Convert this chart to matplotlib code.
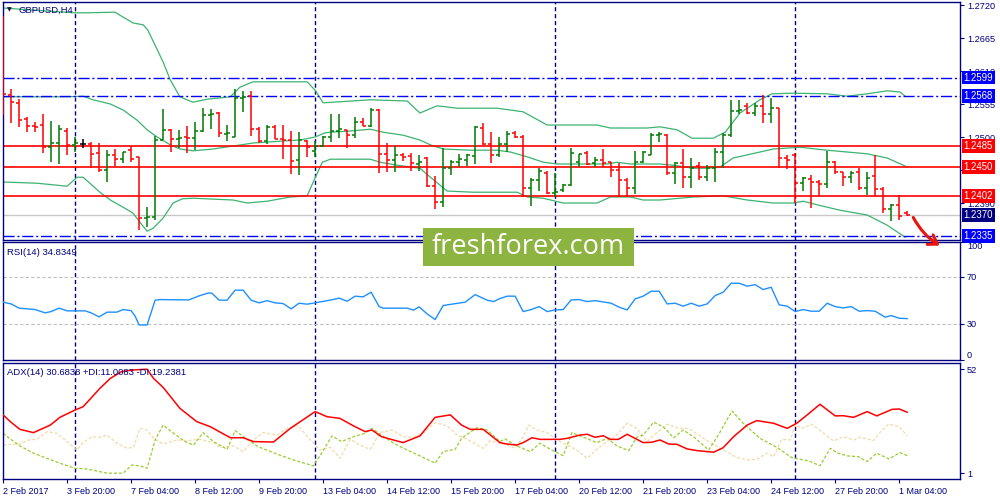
import matplotlib
matplotlib.use('Agg')
import matplotlib.pyplot as plt
from matplotlib.collections import LineCollection
from matplotlib.patches import Rectangle, FancyArrowPatch
from matplotlib.transforms import blended_transform_factory

plt.rcParams['font.family'] = ['Liberation Sans', 'DejaVu Sans']

# ---------------- data ----------------
symbol = 'GBPUSD,H4'

# H4 bars, index 0 = 2 Feb 2017 12:00 ... 113 = 1 Mar 2017 08:00
opens = [1.2695, 1.2570, 1.2557, 1.2530, 1.2518, 1.2520, 1.2483, 1.2490, 1.2510, 1.2487,
         1.2488, 1.2488, 1.2473, 1.2445, 1.2470, 1.2463, 1.2478, 1.2467, 1.2365, 1.2367,
         1.2495, 1.2512, 1.2497, 1.2500, 1.2498, 1.2510, 1.2537, 1.2540, 1.2505, 1.2500,
         1.2565, 1.2568, 1.2513, 1.2493, 1.2517, 1.2497, 1.2495, 1.2462, 1.2493, 1.2477,
         1.2485, 1.2500, 1.2510, 1.2512, 1.2503, 1.2525, 1.2518, 1.2545, 1.2472, 1.2462,
         1.2470, 1.2468, 1.2455, 1.2465, 1.2418, 1.2392, 1.2448, 1.2458, 1.2462, 1.2468,
         1.2515, 1.2488, 1.2470, 1.2488, 1.2507, 1.2500, 1.2415, 1.2428, 1.2440, 1.2407,
         1.2412, 1.2420, 1.2458, 1.2473, 1.2457, 1.2462, 1.2458, 1.2445, 1.2428, 1.2415,
         1.2458, 1.2470, 1.2503, 1.2503, 1.2440, 1.2457, 1.2433, 1.2452, 1.2433, 1.2448,
         1.2475, 1.2503, 1.2543, 1.2552, 1.2540, 1.2552, 1.2538, 1.2548, 1.2465, 1.2470,
         1.2423, 1.2430, 1.2425, 1.2422, 1.2458, 1.2442, 1.2433, 1.2442, 1.2415, 1.2435,
         1.2413, 1.2380, 1.2387, 1.2373]
highs = [1.2702, 1.2580, 1.2563, 1.2533, 1.2525, 1.2538, 1.2527, 1.2520, 1.2515, 1.2500,
         1.2497, 1.2492, 1.2490, 1.2478, 1.2480, 1.2475, 1.2485, 1.2467, 1.2383, 1.2502,
         1.2547, 1.2513, 1.2512, 1.2518, 1.2525, 1.2548, 1.2547, 1.2542, 1.2520, 1.2580,
         1.2577, 1.2577, 1.2517, 1.2520, 1.2520, 1.2520, 1.2510, 1.2508, 1.2495, 1.2493,
         1.2502, 1.2538, 1.2538, 1.2512, 1.2533, 1.2532, 1.2548, 1.2547, 1.2490, 1.2485,
         1.2473, 1.2473, 1.2470, 1.2467, 1.2435, 1.2482, 1.2462, 1.2472, 1.2472, 1.2518,
         1.2523, 1.2508, 1.2500, 1.2510, 1.2510, 1.2503, 1.2432, 1.2448, 1.2443, 1.2440,
         1.2422, 1.2482, 1.2472, 1.2477, 1.2467, 1.2480, 1.2458, 1.2457, 1.2432, 1.2477,
         1.2477, 1.2507, 1.2508, 1.2505, 1.2458, 1.2480, 1.2465, 1.2458, 1.2453, 1.2482,
         1.2507, 1.2562, 1.2562, 1.2557, 1.2557, 1.2570, 1.2565, 1.2548, 1.2470, 1.2473,
         1.2433, 1.2437, 1.2428, 1.2477, 1.2460, 1.2442, 1.2443, 1.2448, 1.2442, 1.2470,
         1.2417, 1.2388, 1.2403, 1.2377]
lows = [1.2537, 1.2523, 1.2517, 1.2508, 1.2508, 1.2473, 1.2458, 1.2455, 1.2470, 1.2475,
        1.2482, 1.2448, 1.2442, 1.2425, 1.2452, 1.2457, 1.2458, 1.2345, 1.2350, 1.2362,
        1.2495, 1.2475, 1.2482, 1.2473, 1.2478, 1.2508, 1.2513, 1.2500, 1.2493, 1.2500,
        1.2542, 1.2502, 1.2490, 1.2488, 1.2497, 1.2463, 1.2438, 1.2437, 1.2467, 1.2467,
        1.2483, 1.2492, 1.2498, 1.2482, 1.2498, 1.2518, 1.2517, 1.2440, 1.2442, 1.2442,
        1.2460, 1.2443, 1.2443, 1.2417, 1.2380, 1.2383, 1.2437, 1.2450, 1.2452, 1.2455,
        1.2487, 1.2457, 1.2467, 1.2475, 1.2498, 1.2400, 1.2385, 1.2410, 1.2405, 1.2400,
        1.2408, 1.2418, 1.2450, 1.2453, 1.2450, 1.2450, 1.2433, 1.2400, 1.2400, 1.2405,
        1.2457, 1.2470, 1.2492, 1.2437, 1.2422, 1.2415, 1.2415, 1.2428, 1.2427, 1.2425,
        1.2448, 1.2500, 1.2538, 1.2538, 1.2535, 1.2523, 1.2523, 1.2448, 1.2447, 1.2390,
        1.2410, 1.2382, 1.2402, 1.2415, 1.2438, 1.2418, 1.2423, 1.2412, 1.2403, 1.2402,
        1.2373, 1.2360, 1.2362, 1.2368]
closes = [1.2572, 1.2558, 1.2528, 1.2518, 1.2517, 1.2483, 1.2490, 1.2513, 1.2487, 1.2490,
          1.2488, 1.2472, 1.2445, 1.2470, 1.2463, 1.2475, 1.2463, 1.2365, 1.2367, 1.2495,
          1.2512, 1.2497, 1.2498, 1.2498, 1.2510, 1.2537, 1.2538, 1.2507, 1.2507, 1.2565,
          1.2567, 1.2513, 1.2493, 1.2517, 1.2497, 1.2495, 1.2460, 1.2495, 1.2483, 1.2485,
          1.2500, 1.2510, 1.2513, 1.2503, 1.2525, 1.2518, 1.2545, 1.2472, 1.2462, 1.2470,
          1.2467, 1.2457, 1.2458, 1.2418, 1.2392, 1.2448, 1.2458, 1.2463, 1.2470, 1.2517,
          1.2488, 1.2470, 1.2488, 1.2505, 1.2500, 1.2415, 1.2428, 1.2443, 1.2407, 1.2408,
          1.2420, 1.2473, 1.2472, 1.2455, 1.2462, 1.2457, 1.2445, 1.2428, 1.2415, 1.2458,
          1.2475, 1.2503, 1.2505, 1.2440, 1.2457, 1.2433, 1.2448, 1.2433, 1.2448, 1.2475,
          1.2503, 1.2543, 1.2545, 1.2540, 1.2552, 1.2538, 1.2548, 1.2465, 1.2462, 1.2423,
          1.2432, 1.2425, 1.2422, 1.2458, 1.2442, 1.2433, 1.2440, 1.2415, 1.2432, 1.2413,
          1.2380, 1.2387, 1.2368, 1.2370]

# Bollinger bands (bar index, price)
bb_up_x = [0, 8.75, 10.5, 14, 14.6, 16.25, 17.5, 18.1, 20, 20.9,
           22.1, 23, 23.75, 25.5, 28.4, 29.6, 30.5, 31.25, 38, 39,
           40, 45.9, 50.5, 52.1, 54.25, 56.75, 61.75, 65, 68, 74.25,
           75.9, 80.5, 82.1, 84.25, 86.1, 88.75, 90.25, 92.1, 94.6, 96.1,
           98.75, 103, 105.5, 108, 110.5, 112.1, 112.75]
bb_up = [1.2715, 1.2707, 1.2707, 1.2708, 1.2703, 1.2690, 1.2687, 1.2678, 1.2625, 1.2595,
         1.2567, 1.2562, 1.2558, 1.2563, 1.2567, 1.2583, 1.2588, 1.2592, 1.2592, 1.2578,
         1.2557, 1.2562, 1.2560, 1.2540, 1.2552, 1.2548, 1.2548, 1.2542, 1.2520, 1.2520,
         1.2515, 1.2515, 1.2517, 1.2512, 1.2498, 1.2498, 1.2508, 1.2540, 1.2562, 1.2572,
         1.2573, 1.2572, 1.2568, 1.2572, 1.2577, 1.2575, 1.2568]
bb_mid_x = [0, 8, 10, 11.25, 13.4, 15, 16.75, 18, 19.25, 20.9,
            22.1, 23.75, 26.25, 28.75, 31.25, 34.6, 37.1, 39, 40.25, 40.9,
            43.4, 45.9, 47.5, 50, 52.1, 53.4, 55, 58.4, 61.75, 63.4,
            65.5, 67.5, 69.25, 75.5, 76.75, 78.4, 82.1, 83.75, 86.25, 88,
            89.6, 91.25, 94.6, 96.25, 99.6, 103, 108, 110.5, 113]
bb_mid = [1.2567, 1.2567, 1.2568, 1.2562, 1.2555, 1.2545, 1.2528, 1.2512, 1.2500, 1.2487,
          1.2480, 1.2477, 1.2480, 1.2485, 1.2490, 1.2493, 1.2495, 1.2500, 1.2507, 1.2508,
          1.2510, 1.2513, 1.2508, 1.2503, 1.2495, 1.2487, 1.2480, 1.2478, 1.2478, 1.2475,
          1.2467, 1.2458, 1.2455, 1.2455, 1.2458, 1.2455, 1.2455, 1.2453, 1.2448, 1.2448,
          1.2450, 1.2465, 1.2475, 1.2480, 1.2483, 1.2478, 1.2472, 1.2465, 1.2450]
bb_low_x = [0, 4.25, 8, 9.25, 10, 12.1, 13.4, 15, 16.25, 17.1,
            18, 18.75, 20, 21.25, 22.4, 23.75, 28.75, 30.5, 33, 35.9,
            38, 39, 39.9, 40.9, 45.9, 47.1, 49.25, 52.1, 53.4, 55.5,
            58.75, 64.25, 65.5, 67.5, 70, 74.25, 75.9, 78.4, 80, 82.1,
            86.25, 90, 93, 96.25, 98.75, 100, 101.75, 104.6, 108, 110.5,
            112.75]
bb_low = [1.2425, 1.2423, 1.2418, 1.2433, 1.2433, 1.2408, 1.2395, 1.2383, 1.2373, 1.2358,
          1.2343, 1.2348, 1.2365, 1.2390, 1.2397, 1.2398, 1.2395, 1.2390, 1.2393, 1.2400,
          1.2402, 1.2432, 1.2458, 1.2463, 1.2463, 1.2458, 1.2453, 1.2448, 1.2433, 1.2410,
          1.2408, 1.2408, 1.2400, 1.2398, 1.2390, 1.2390, 1.2400, 1.2400, 1.2395, 1.2395,
          1.2400, 1.2402, 1.2395, 1.2390, 1.2390, 1.2393, 1.2387, 1.2378, 1.2370, 1.2353,
          1.2333]

# RSI(14)
rsi_x = [0, 1, 2, 4, 5.25, 6, 7, 8, 10.25, 11,
         12, 13, 14.2, 15, 16, 16.5, 17, 18, 19, 19.6,
         23.2, 24.6, 25.7, 26.1, 27, 28, 29, 30, 31, 32,
         33, 34, 35, 36, 37, 38, 39, 41, 42, 43,
         44, 45, 46, 47, 47.5, 50.5, 51.3, 52, 53, 54,
         55, 55.7, 57.75, 59, 60.5, 61.3, 62, 63, 64, 65,
         66, 67, 68, 69, 70, 71, 72, 73, 74, 76,
         77, 78, 79, 80, 81, 82, 83, 84, 85, 86,
         87, 88, 89, 90, 91, 92, 93, 94, 95, 96,
         97, 98, 99, 100, 101, 102, 103, 104, 105, 106,
         107, 108, 109, 110.25, 111, 112, 113]
rsi = [48.8, 47.3, 43.7, 42.5, 39.7, 40.8, 43.7, 41.4, 41.4, 39.7,
       36.3, 40.3, 40.3, 42.5, 41.6, 36.9, 29.4, 29.4, 50.5, 51.0,
       50.7, 54.4, 56.7, 56.4, 50.5, 50.5, 59.0, 59.0, 50.5, 48.2,
       50.1, 48.2, 47.6, 43.1, 47.9, 47.1, 48.2, 50.7, 52.2, 49.6,
       53.9, 53.3, 57.3, 45.0, 43.7, 43.7, 42.0, 44.8, 38.8, 34.0,
       45.9, 46.7, 48.8, 55.2, 50.5, 49.3, 51.6, 53.9, 53.9, 40.8,
       42.5, 45.0, 40.8, 42.2, 42.5, 50.7, 51.0, 49.3, 50.1, 47.9,
       44.5, 42.2, 51.6, 53.9, 58.1, 58.1, 47.3, 47.9, 45.4, 47.9,
       45.4, 47.3, 54.4, 57.3, 64.9, 64.9, 62.4, 63.7, 59.5, 61.5,
       46.5, 45.4, 40.8, 42.5, 41.1, 41.1, 47.9, 45.0, 43.9, 45.0,
       41.1, 41.6, 41.1, 36.0, 37.4, 35.1, 34.8]
rsi_levels = [70, 30]
rsi_title = 'RSI(14) 34.8349'

# ADX(14), +DI, -DI
adx_x = [0, 0.9, 2.1, 3.8, 5.9, 7.1, 9, 10, 12.1, 13.4,
         14.8, 16.1, 18, 18.8, 20, 22.1, 24.2, 25.9, 28.4, 30,
         31.3, 33.8, 35.9, 39, 40.5, 42.1, 43.8, 45.25, 46.1, 47.3,
         50, 52.1, 54, 55.9, 57.3, 58.4, 60, 62.1, 63, 64.2,
         65, 66.1, 67.1, 69.6, 70.5, 72.1, 73, 74, 75, 75.9,
         76.9, 78, 80, 81.1, 82.1, 83.2, 84.2, 85.5, 86.7, 88.8,
         90, 91.3, 93, 94.2, 96.3, 98, 99.2, 100.5, 102.1, 104,
         105, 106.3, 108, 109.2, 111.1, 112, 113]
adx = [29.5, 26.2, 22.4, 20.8, 24.5, 28.3, 31.9, 33.5, 42.5, 47.4,
       50.7, 51.5, 51.9, 47.4, 43.0, 32.7, 26.2, 23.7, 18.3, 18.3,
       16.4, 16.2, 22.9, 31.1, 28.6, 27.8, 24.1, 21.3, 22.1, 18.8,
       15.9, 19.2, 28.3, 29.5, 24.5, 22.4, 22.4, 15.9, 15.2, 14.7,
       15.9, 18.3, 17.5, 17.5, 18.0, 19.6, 20.0, 18.5, 19.3, 17.5,
       17.5, 20.0, 15.9, 16.1, 17.2, 15.2, 15.1, 12.8, 12.0, 11.2,
       13.4, 18.8, 24.5, 26.7, 25.4, 22.9, 25.4, 29.5, 34.7, 29.0,
       29.1, 28.3, 31.1, 29.0, 32.2, 32.4, 30.8]
pdi_x = [0, 0.7, 2.1, 3.8, 5.5, 7.1, 9, 10.5, 13, 15,
         16.1, 17.1, 18, 19, 20, 21.3, 22.75, 23.8, 25, 26.3,
         28, 29, 30.5, 31.9, 34.2, 36.3, 38.8, 39.8, 41.1, 42.3,
         43.8, 45.25, 46.1, 47.3, 48.8, 50.5, 52.1, 54, 55, 56.5,
         57.3, 59.2, 60.5, 62.1, 62.75, 63.6, 64.6, 65.9, 67.1, 68.4,
         70, 71.1, 72.1, 73.4, 74.2, 75.5, 76.7, 78.2, 79.2, 80,
         81.3, 82.5, 83.8, 85, 86.3, 88.2, 89.6, 91.1, 92.5, 94.6,
         96.7, 98.6, 100.7, 102.1, 103.4, 104.2, 105.5, 106.9, 108, 109.2,
         110.7, 112.1, 113]
pdi = [20.5, 18.3, 14.3, 10.7, 8.2, 5.8, 3.3, 3.0, 0.9, 0.9,
       4.9, 4.5, 3.3, 17.2, 24.5, 20.5, 16.4, 14.7, 20.8, 16.4,
       12.6, 21.8, 17.5, 13.9, 10.3, 7.4, 4.5, 10.7, 19.2, 16.4,
       18.8, 20.5, 22.9, 19.6, 15.6, 12.3, 9.4, 5.8, 11.5, 12.6,
       18.0, 23.2, 22.1, 16.4, 17.7, 15.6, 13.6, 11.5, 15.6, 12.6,
       9.5, 20.8, 19.2, 17.2, 15.9, 18.0, 14.3, 12.0, 18.5, 19.6,
       25.9, 23.7, 18.3, 22.1, 18.8, 12.3, 21.0, 31.4, 25.4, 18.0,
       13.6, 8.5, 6.9, 4.6, 13.1, 11.0, 9.4, 9.0, 6.6, 10.7,
       7.9, 11.0, 9.5]
mdi_x = [0, 1.3, 2.1, 3.2, 4.2, 5.5, 6.7, 7.75, 9.2, 10,
         11.1, 12.1, 13, 14.2, 15.5, 16.3, 17.1, 18, 18.8, 20,
         21.7, 23, 24.6, 26.3, 27.1, 28.8, 30, 31.3, 32.5, 34.2,
         35.5, 36.9, 38.4, 39.6, 40.9, 42.1, 43.4, 44.6, 45.9, 47.1,
         48.6, 50, 51.3, 52.5, 54, 55.5, 56.75, 58, 60, 60.9,
         62.1, 63, 64, 65, 65.7, 66.7, 68, 69.2, 70.5, 71.7,
         73, 74.2, 75.5, 76.7, 78, 79.2, 80.5, 81.7, 83, 84.4,
         85.7, 87.1, 88.4, 90, 91.5, 93, 94.2, 95.5, 96.3, 97.3,
         98.4, 99, 99.8, 101.1, 102.3, 103.8, 105, 106.3, 107.1, 108.8,
         109.6, 110.7, 112, 113]
mdi = [14.7, 15.2, 15.2, 17.2, 17.5, 21.3, 20.5, 17.2, 12.3, 15.9,
       18.8, 18.5, 19.6, 15.6, 13.1, 13.6, 22.9, 22.1, 18.0, 15.2,
       17.2, 16.9, 17.5, 15.9, 13.6, 14.3, 11.5, 17.2, 20.8, 19.6,
       22.9, 24.1, 17.2, 12.3, 13.6, 8.2, 17.5, 14.7, 12.6, 20.8,
       22.1, 18.8, 18.5, 20.5, 25.7, 24.1, 19.6, 17.5, 13.1, 16.9,
       15.6, 14.7, 13.1, 18.8, 24.5, 22.1, 20.8, 17.2, 14.7, 12.3,
       8.2, 12.6, 16.4, 19.6, 25.4, 22.9, 16.4, 20.8, 24.9, 22.9,
       22.9, 19.2, 15.9, 12.3, 9.0, 7.4, 7.7, 10.7, 9.0, 17.5,
       17.2, 24.5, 22.9, 24.9, 21.3, 16.7, 18.8, 17.2, 18.5, 16.9,
       20.8, 25.0, 23.7, 19.2]
adx_title = 'ADX(14) 30.6838 +DI:11.0083 -DI:19.2381'

date_ticks = list(range(0, 113, 8))
date_labels = ['2 Feb 2017', '3 Feb 20:00', '7 Feb 04:00', '8 Feb 12:00', '9 Feb 20:00',
               '13 Feb 04:00', '14 Feb 12:00', '15 Feb 20:00', '17 Feb 04:00', '20 Feb 12:00',
               '21 Feb 20:00', '23 Feb 04:00', '24 Feb 12:00', '27 Feb 20:00', '1 Mar 04:00']
week_starts = [9, 39, 69, 99]

price_ticks = [1.2720, 1.2665, 1.2610, 1.2555, 1.2500, 1.2445, 1.2390]
levels_blue = [1.2599, 1.2568, 1.2335]
levels_red = [1.2485, 1.2450, 1.2402]
bid = 1.2370

# ---------------- drawing ----------------
NAVY = '#000080'
BULL = '#007a00'
BEAR = '#ff0000'
W, H = 1000, 500

fig = plt.figure(figsize=(10, 5), dpi=100)


def px_axes(x0, y0, x1, y1):
    return fig.add_axes([x0 / W, 1 - y1 / H, (x1 - x0) / W, (y1 - y0) / H])


ax = px_axes(2.7, 2, 960, 239.5)
ax_rsi = px_axes(2.7, 242, 960, 359.5)
ax_adx = px_axes(2.7, 362.5, 960, 479)

for a in (ax, ax_rsi, ax_adx):
    a.set_xlim(-0.05, 119.6)
    for s in a.spines.values():
        s.set_color(NAVY)
        s.set_linewidth(1.0)
    a.yaxis.tick_right()
    a.tick_params(axis='y', direction='out', length=3, width=0.8, colors=NAVY,
                  labelsize=6.6, pad=2)
    for b in week_starts:
        a.axvline(b, color=NAVY, lw=1.0, ls=(0, (3, 2)), zorder=1)

ax.tick_params(axis='x', bottom=False, labelbottom=False)
ax_rsi.tick_params(axis='x', bottom=False, labelbottom=False)

# price panel
ax.set_ylim(1.23292, 1.27250)
ax.set_yticks(price_ticks)
ax.set_yticklabels([f'{p:.4f}' for p in price_ticks])

ax.plot(bb_up_x, bb_up, color='#3cb371', lw=0.9, zorder=2)
ax.plot(bb_mid_x, bb_mid, color='#3cb371', lw=0.9, zorder=2)
ax.plot(bb_low_x, bb_low, color='#3cb371', lw=0.9, zorder=2)

for lv in levels_blue:
    ax.axhline(lv, color='#0000ff', lw=1.0, ls=(0, (8, 2, 1.5, 2)), zorder=2)
for lv in levels_red:
    ax.axhline(lv, color='#ff0000', lw=1.2, zorder=2)
ax.axhline(bid, color='#c8c8c8', lw=1.0, zorder=1.5)

segs, cols = [], []
for i, (o, h, l, c) in enumerate(zip(opens, highs, lows, closes)):
    col = BULL if c > o else (BEAR if c < o else 'black')
    segs += [[(i, l), (i, h)], [(i - 0.4, o), (i, o)], [(i, c), (i + 0.4, c)]]
    cols += [col] * 3
ax.add_collection(LineCollection(segs, colors=cols, linewidths=1.1, zorder=3))

# price boxes on the right scale (they cover the tick labels, as in the terminal)
lbl_tr = blended_transform_factory(ax.transAxes, ax.transData)
box_levels = [(lv, '#0000ff') for lv in levels_blue] + \
             [(lv, '#ff0000') for lv in levels_red] + [(bid, NAVY)]
for lv, col in box_levels:
    ax.text(1.0037, lv, f'{lv:.4f}', transform=lbl_tr, color='white', fontsize=6.9,
            va='center', ha='left', clip_on=False, zorder=6,
            bbox=dict(boxstyle='square,pad=0.18', fc=col, ec='none'))

ax.text(0.0045, 0.966, '\u25bc', transform=ax.transAxes, fontsize=4.5, color='#101040',
        va='center', ha='left', family='DejaVu Sans')
ax.text(0.016, 0.966, symbol, transform=ax.transAxes, fontsize=6.8, color=NAVY,
        va='center', ha='left')

# RSI panel
ax_rsi.set_ylim(0, 100)
ax_rsi.set_yticks([100, 70, 30, 0])
ax_rsi.set_yticklabels(['100', '70', '30', '0'])
for t, va in zip(ax_rsi.get_yticklabels(), ['top', 'center', 'center', 'bottom']):
    t.set_va(va)
for lv in rsi_levels:
    ax_rsi.axhline(lv, color='#c0c0c0', lw=0.8, ls=(0, (3, 2)), zorder=1)
ax_rsi.plot(rsi_x, rsi, color='#1e90ff', lw=1.0, zorder=3)
ax_rsi.text(0.0048, 0.912, rsi_title, transform=ax_rsi.transAxes,
            fontsize=6.8, color=NAVY, va='center', ha='left')

# ADX panel
ax_adx.set_ylim(-1.94, 55.19)
ax_adx.set_yticks([52, 1])
ax_adx.set_yticklabels(['52', '1'])
ax_adx.plot(mdi_x, mdi, color='#f5d9a8', lw=0.9, ls=(0, (2.5, 1.5)), zorder=2)
ax_adx.plot(pdi_x, pdi, color='#9acd32', lw=0.9, ls=(0, (2.5, 1.5)), zorder=2)
ax_adx.plot(adx_x, adx, color='#ff0000', lw=1.1, zorder=3)
ax_adx.text(0.0048, 0.918, adx_title, transform=ax_adx.transAxes,
            fontsize=6.8, color=NAVY, va='center', ha='left')

ax_adx.set_xticks(date_ticks)
ax_adx.set_xticklabels(date_labels, ha='left')
ax_adx.tick_params(axis='x', direction='out', length=3, width=0.8, colors=NAVY,
                   labelsize=6.5, pad=3)

# watermark
fig.add_artist(Rectangle((423 / W, 1 - 266 / H), 211 / W, 38 / H, transform=fig.transFigure,
                         fc='#8db441', ec='none', zorder=10))
fig.text(528.5 / W, 1 - 247 / H, 'freshforex.com', color='white', fontsize=19.5,
         family='Open Sans', ha='center', va='center', zorder=11)

# hand drawn arrow
fig.add_artist(FancyArrowPatch((912 / W, 1 - 215 / H), (942 / W, 1 - 247 / H),
                               transform=fig.transFigure,
                               arrowstyle='->,head_length=6,head_width=4',
                               connectionstyle='arc3,rad=0.15', color='#e8150c', lw=2.2,
                               zorder=12))

fig.savefig('out.png', dpi=100)
